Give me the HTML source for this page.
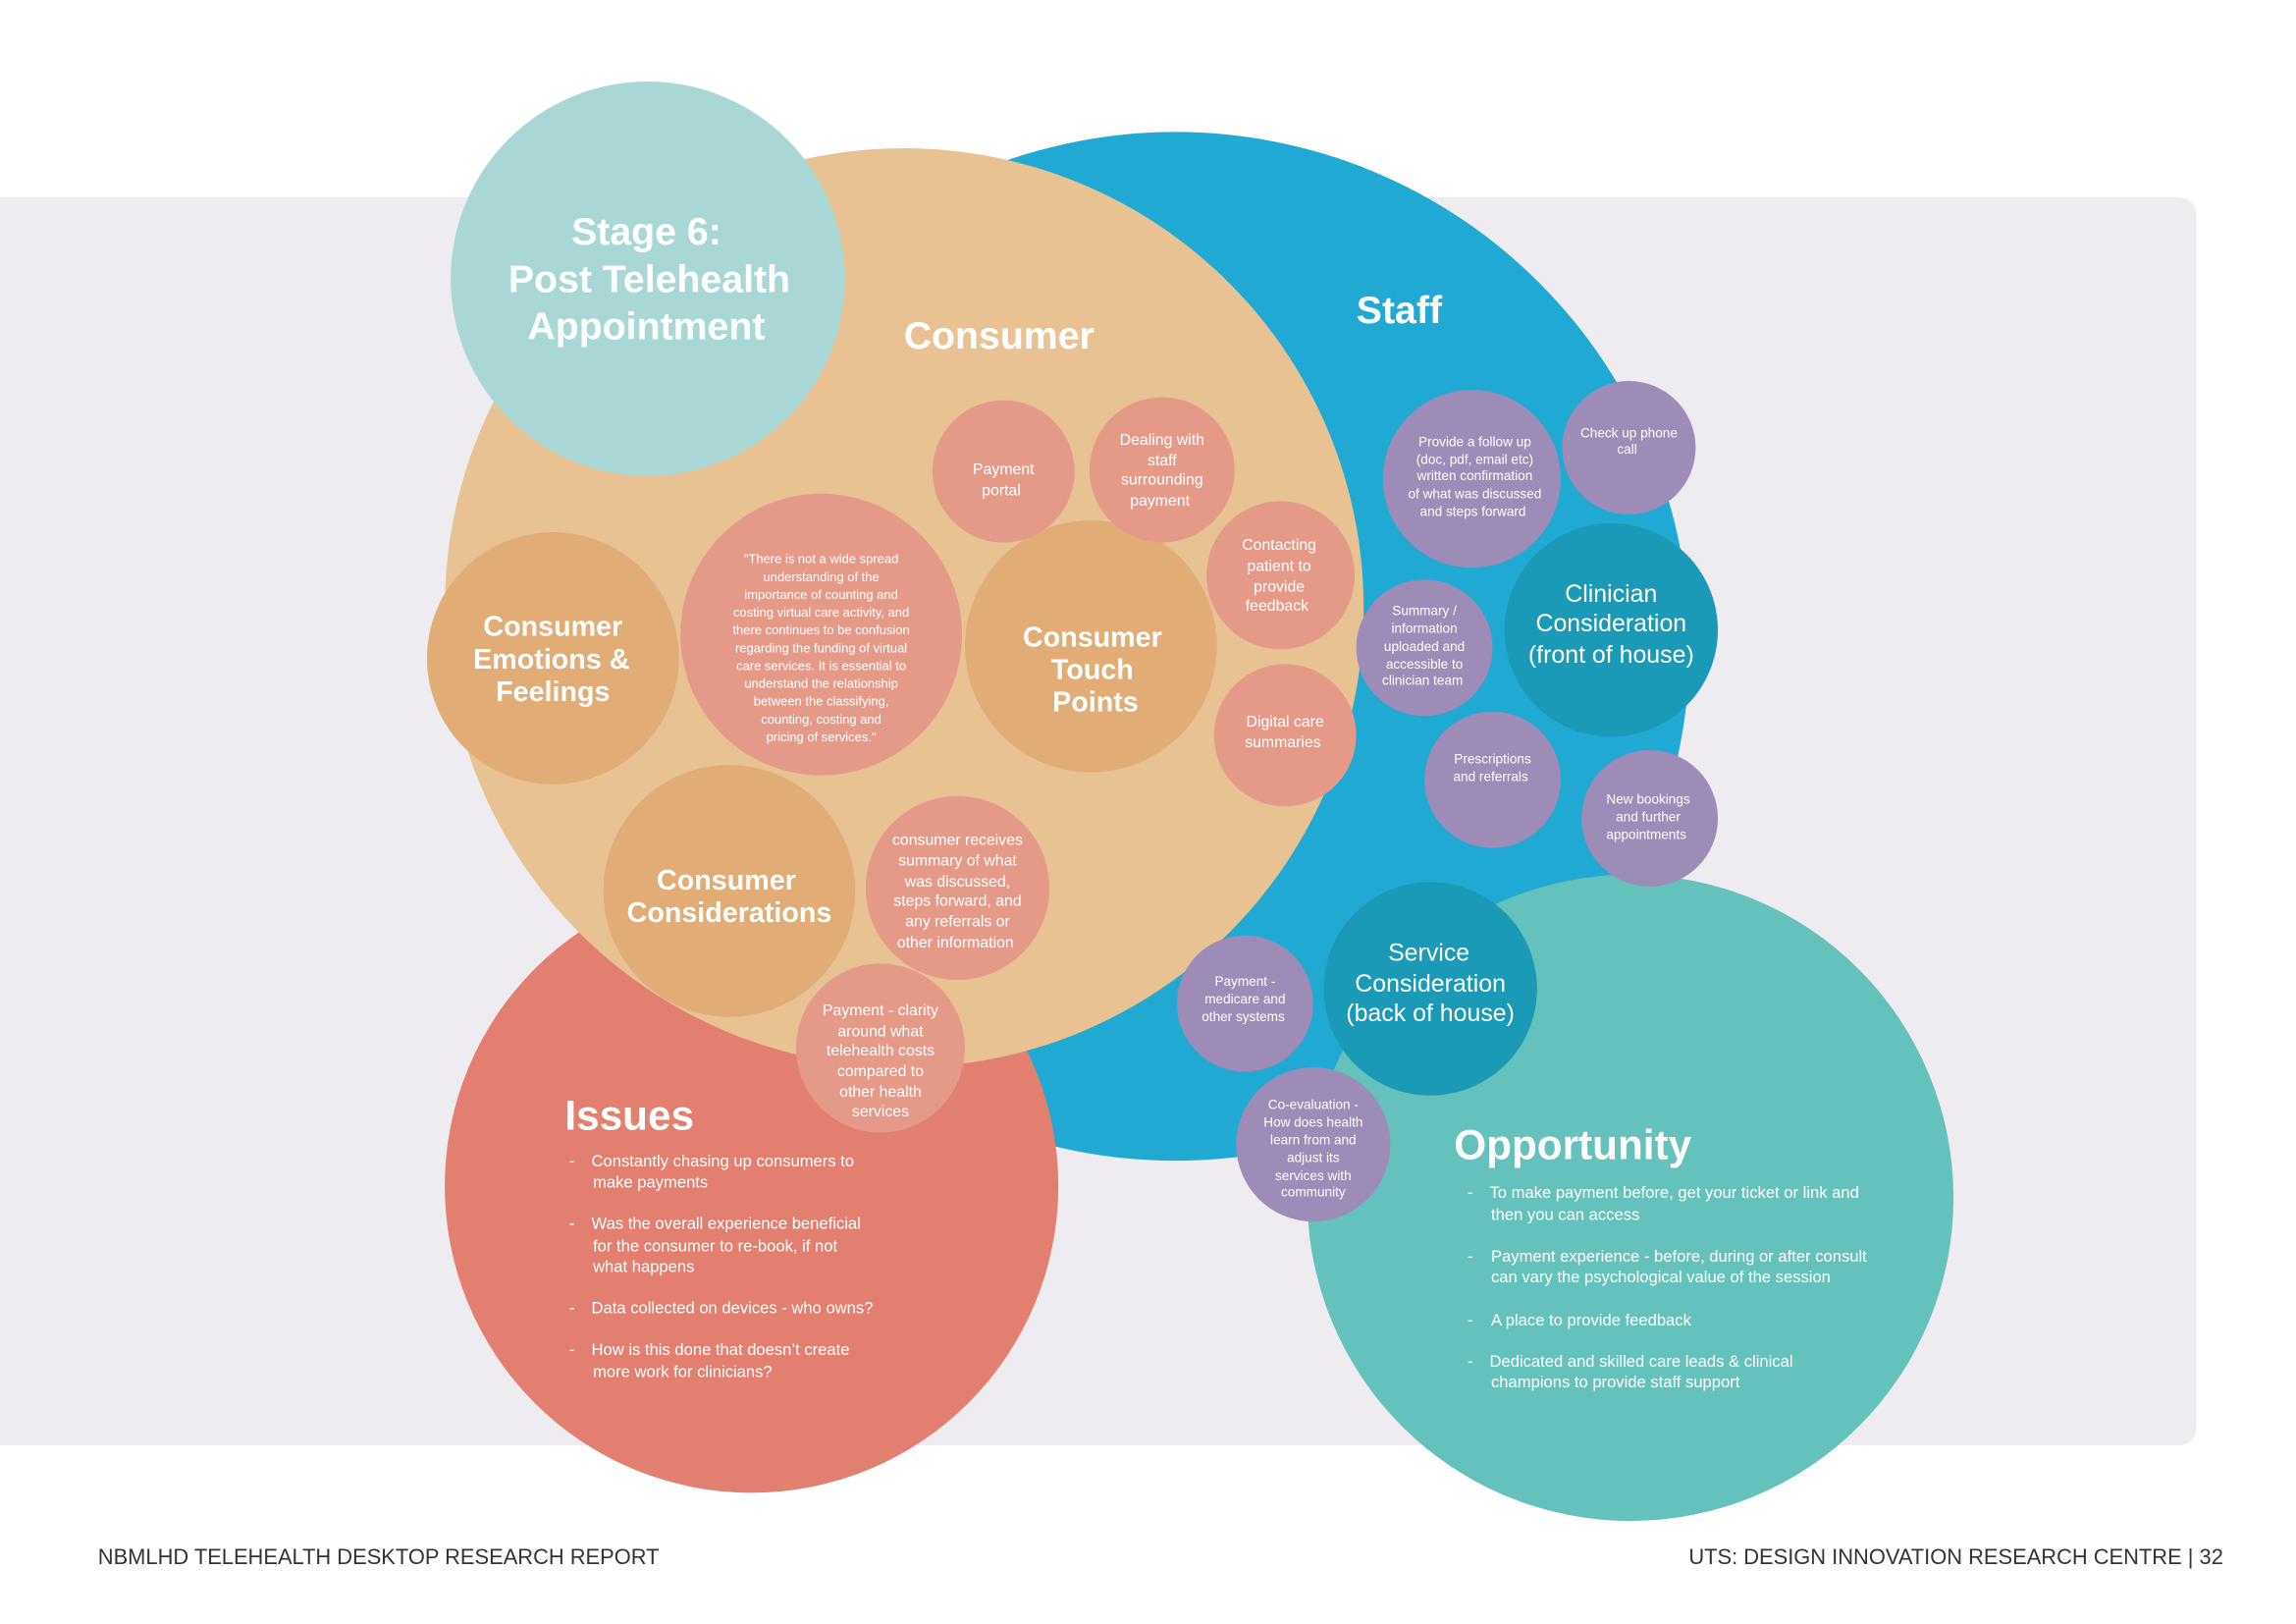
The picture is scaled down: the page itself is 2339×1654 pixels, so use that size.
<!DOCTYPE html>
<html><head><meta charset="utf-8"><style>
html,body{margin:0;padding:0;background:#fff;}
svg{display:block;}
text{font-family:"Liberation Sans",sans-serif;fill:#fff;}
.b{font-weight:bold;}
</style></head><body>
<svg width="2339" height="1654" viewBox="0 0 1549 1095.5" xmlns="http://www.w3.org/2000/svg">
<rect x="-20" y="133" width="1502" height="842" rx="12" fill="#efecf1"/>
<circle cx="793" cy="436" r="347" fill="#20aad3"/>
<circle cx="1100" cy="808" r="218" fill="#64c1bb"/>
<circle cx="507" cy="800" r="207" fill="#e37f70"/>
<circle cx="610" cy="410" r="310" fill="#e9c294"/>
<circle cx="437" cy="188" r="133" fill="#a9d7d6"/>

<circle cx="373" cy="444" r="85" fill="#e2ac77"/>
<circle cx="736" cy="436" r="85" fill="#e2ac77"/>
<circle cx="492" cy="601" r="85" fill="#e2ac77"/>
<g fill="#e59a89">
<circle cx="554" cy="428" r="95"/>
<circle cx="677" cy="318" r="48"/>
<circle cx="784" cy="317" r="49"/>
<circle cx="864" cy="388" r="50"/>
<circle cx="867" cy="496" r="48"/>
<circle cx="646" cy="599" r="62"/>
<circle cx="594" cy="707" r="57"/>
</g>
<circle cx="1087" cy="425" r="72" fill="#1a9ab6"/>
<circle cx="965" cy="667" r="72" fill="#1a9ab6"/>
<g fill="#9d8bb8">
<circle cx="993" cy="323" r="60"/>
<circle cx="1099" cy="302" r="45"/>
<circle cx="961" cy="437" r="46"/>
<circle cx="1007" cy="526" r="46"/>
<circle cx="1113" cy="552" r="46"/>
<circle cx="840" cy="677" r="46"/>
<circle cx="886" cy="772" r="52"/>
</g>

<text class="b" font-size="26" text-anchor="middle"><tspan x="436" y="165">Stage 6:</tspan><tspan x="438" y="197">Post Telehealth</tspan><tspan x="436" y="229">Appointment</tspan></text>
<text class="b" font-size="26" x="674" y="235" text-anchor="middle">Consumer</text>
<text class="b" font-size="26" x="944" y="218" text-anchor="middle">Staff</text>
<text class="b" font-size="19" text-anchor="middle"><tspan x="373" y="429">Consumer</tspan><tspan x="372" y="451">Emotions &amp;</tspan><tspan x="373" y="473">Feelings</tspan></text>
<text class="b" font-size="19" text-anchor="middle"><tspan x="737" y="436">Consumer</tspan><tspan x="737" y="458">Touch</tspan><tspan x="739" y="480">Points</tspan></text>
<text class="b" font-size="19" text-anchor="middle"><tspan x="490" y="600">Consumer</tspan><tspan x="492" y="622">Considerations</tspan></text>
<text font-size="16.5" text-anchor="middle"><tspan x="1087" y="406">Clinician</tspan><tspan x="1087" y="426">Consideration</tspan><tspan x="1087" y="447">(front of house)</tspan></text>
<text font-size="16.5" text-anchor="middle"><tspan x="964" y="648">Service</tspan><tspan x="965" y="669">Consideration</tspan><tspan x="965" y="689">(back of house)</tspan></text>

<text font-size="10.5" text-anchor="middle">
<tspan x="677" y="320">Payment</tspan><tspan x="677" y="334">portal</tspan>
<tspan x="784" y="300">Dealing with</tspan><tspan x="784" y="314">staff</tspan><tspan x="784" y="327">surrounding</tspan><tspan x="784" y="341">payment</tspan>
<tspan x="863" y="371">Contacting</tspan><tspan x="863" y="385">patient to</tspan><tspan x="863" y="399">provide</tspan><tspan x="863" y="412">feedback</tspan>
<tspan x="867" y="490">Digital care</tspan><tspan x="867" y="504">summaries</tspan>
<tspan x="646" y="570">consumer receives</tspan><tspan x="646" y="584">summary of what</tspan><tspan x="646" y="598">was discussed,</tspan><tspan x="646" y="611">steps forward, and</tspan><tspan x="646" y="625">any referrals or</tspan><tspan x="646" y="639">other information</tspan>
<tspan x="594" y="685">Payment - clarity</tspan><tspan x="594" y="699">around what</tspan><tspan x="594" y="712">telehealth costs</tspan><tspan x="594" y="726">compared to</tspan><tspan x="594" y="740">other health</tspan><tspan x="594" y="753">services</tspan>
</text>
<text font-size="8.6" text-anchor="middle">
<tspan x="554" y="380">"There is not a wide spread</tspan><tspan x="554" y="392">understanding of the</tspan><tspan x="554" y="404">importance of counting and</tspan><tspan x="554" y="416">costing virtual care activity, and</tspan><tspan x="554" y="428">there continues to be confusion</tspan><tspan x="554" y="440">regarding the funding of virtual</tspan><tspan x="554" y="452">care services. It is essential to</tspan><tspan x="554" y="464">understand the relationship</tspan><tspan x="554" y="476">between the classifying,</tspan><tspan x="554" y="488">counting, costing and</tspan><tspan x="554" y="500">pricing of services."</tspan>
</text>
<text font-size="9" text-anchor="middle">
<tspan x="995" y="301">Provide a follow up</tspan><tspan x="995" y="313">(doc, pdf, email etc)</tspan><tspan x="995" y="324">written confirmation</tspan><tspan x="995" y="336">of what was discussed</tspan><tspan x="995" y="348">and steps forward</tspan>
<tspan x="1099" y="295">Check up phone</tspan><tspan x="1099" y="306">call</tspan>
<tspan x="961" y="415">Summary /</tspan><tspan x="961" y="427">information</tspan><tspan x="961" y="439">uploaded and</tspan><tspan x="961" y="451">accessible to</tspan><tspan x="961" y="462">clinician team</tspan>
<tspan x="1007" y="515">Prescriptions</tspan><tspan x="1007" y="527">and referrals</tspan>
<tspan x="1112" y="542">New bookings</tspan><tspan x="1112" y="554">and further</tspan><tspan x="1112" y="566">appointments</tspan>
<tspan x="840" y="665">Payment -</tspan><tspan x="840" y="677">medicare and</tspan><tspan x="840" y="689">other systems</tspan>
<tspan x="886" y="748">Co-evaluation -</tspan><tspan x="886" y="760">How does health</tspan><tspan x="886" y="772">learn from and</tspan><tspan x="886" y="784">adjust its</tspan><tspan x="886" y="796">services with</tspan><tspan x="886" y="807">community</tspan>
</text>

<text class="b" font-size="28" x="381" y="762">Issues</text>
<text font-size="11">
<tspan x="384" y="787">-</tspan><tspan x="399" y="787">Constantly chasing up consumers to</tspan><tspan x="400" y="801">make payments</tspan>
<tspan x="384" y="829">-</tspan><tspan x="399" y="829">Was the overall experience beneficial</tspan><tspan x="400" y="844">for the consumer to re-book, if not</tspan><tspan x="400" y="858">what happens</tspan>
<tspan x="384" y="886">-</tspan><tspan x="399" y="886">Data collected on devices - who owns?</tspan>
<tspan x="384" y="914">-</tspan><tspan x="399" y="914">How is this done that doesn’t create</tspan><tspan x="400" y="929">more work for clinicians?</tspan>
</text>
<text class="b" font-size="28" x="981" y="782">Opportunity</text>
<text font-size="11">
<tspan x="990" y="808">-</tspan><tspan x="1005" y="808">To make payment before, get your ticket or link and</tspan><tspan x="1006" y="823">then you can access</tspan>
<tspan x="990" y="851">-</tspan><tspan x="1006" y="851">Payment experience - before, during or after consult</tspan><tspan x="1006" y="865">can vary the psychological value of the session</tspan>
<tspan x="990" y="894">-</tspan><tspan x="1006" y="894">A place to provide feedback</tspan>
<tspan x="990" y="922">-</tspan><tspan x="1005" y="922">Dedicated and skilled care leads &amp; clinical</tspan><tspan x="1006" y="936">champions to provide staff support</tspan>
</text>

<text font-size="14.5" x="66" y="1055" style="fill:#333">NBMLHD TELEHEALTH DESKTOP RESEARCH REPORT</text>
<text font-size="14.5" x="1500" y="1055" text-anchor="end" style="fill:#333">UTS: DESIGN INNOVATION RESEARCH CENTRE  |  32</text>
</svg>
</body></html>
